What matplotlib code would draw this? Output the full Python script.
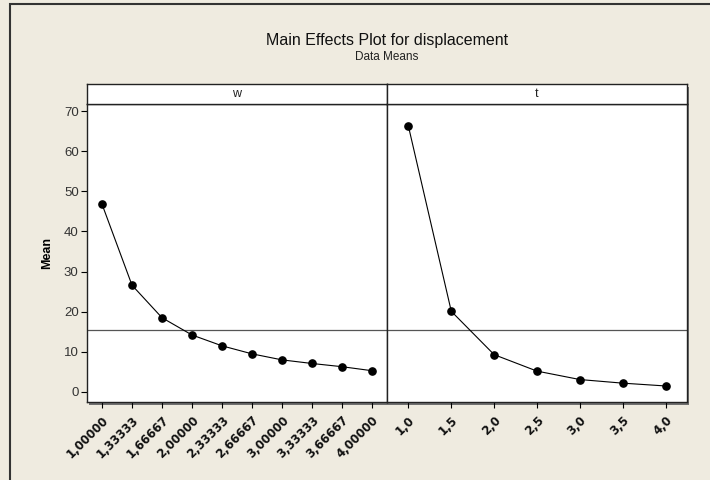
import matplotlib.pyplot as plt
from matplotlib.patches import Rectangle

# factor levels and the mean response at each level
w_levels = ['1,00000', '1,33333', '1,66667', '2,00000', '2,33333',
            '2,66667', '3,00000', '3,33333', '3,66667', '4,00000']
w_means = [46.8, 26.6, 18.5, 14.2, 11.5, 9.5, 8.0, 7.1, 6.3, 5.3]

t_levels = ['1,0', '1,5', '2,0', '2,5', '3,0', '3,5', '4,0']
t_means = [66.2, 20.1, 9.3, 5.2, 3.1, 2.2, 1.5]

grand_mean = 15.45
y_ticks = [0, 10, 20, 30, 40, 50, 60, 70]

bg = '#efebe0'
plt.rcParams['font.family'] = ['Liberation Sans', 'DejaVu Sans']

fig = plt.figure(figsize=(7.1, 4.8), dpi=100, facecolor=bg)
W, H = 710.0, 480.0

# outer frame (runs off the right and bottom edges)
fig.patches.append(Rectangle((10 / W, -0.1), 1.2, 1 - 4 / H + 0.1,
                             transform=fig.transFigure, fill=False,
                             edgecolor='#333333', lw=1.5, zorder=-2))

# drop shadow behind the panels
fig.patches.append(Rectangle((89 / W, 1 - 404.5 / H), 600 / W, 318 / H,
                             transform=fig.transFigure, facecolor='#707070',
                             edgecolor='none', zorder=-1))

plot_bottom = 1 - 402.3 / H
plot_height = (402.3 - 104.3) / H
strip_bottom = 1 - 104.3 / H
strip_height = 20 / H

panels = [('w', w_levels, w_means, 87), ('t', t_levels, t_means, 387)]
for i, (name, levels, means, x0) in enumerate(panels):
    ax = fig.add_axes([x0 / W, plot_bottom, 300 / W, plot_height])
    ax.set_facecolor('white')
    xs = list(range(1, len(levels) + 1))
    ax.axhline(grand_mean, color='#555555', lw=0.9, zorder=1)
    ax.plot(xs, means, color='black', lw=0.8, marker='o', markersize=5.2,
            markerfacecolor='black', zorder=3)
    ax.set_xlim(0.5, len(levels) + 0.5)
    ax.set_ylim(-2.57, 71.67)
    ax.set_xticks(xs)
    ax.set_xticklabels(levels, rotation=45, ha='right', rotation_mode='anchor',
                       fontsize=8.5, fontweight='bold', color='#111111',
                       family='DejaVu Sans')
    ax.tick_params(axis='x', length=4, width=0.8, pad=4)
    if i == 0:
        ax.set_yticks(y_ticks)
        ax.tick_params(axis='y', length=4, width=0.8, labelsize=9.5,
                       labelcolor='#333333', pad=2)
        ax.set_ylabel('Mean', fontsize=9, fontweight='bold', labelpad=8)
    else:
        ax.set_yticks([])
    for sp in ax.spines.values():
        sp.set_linewidth(1.0)
        sp.set_color('#222222')

    # strip with the factor name
    sax = fig.add_axes([x0 / W, strip_bottom, 300 / W, strip_height])
    sax.set_facecolor('white')
    sax.set_xticks([])
    sax.set_yticks([])
    for sp in sax.spines.values():
        sp.set_linewidth(1.0)
        sp.set_color('#222222')
    sax.text(0.5, 0.5, name, ha='center', va='center', fontsize=9,
             color='#222222', transform=sax.transAxes)

fig.text(387 / W, 1 - 40 / H, 'Main Effects Plot for displacement',
         ha='center', va='center', fontsize=11.5, color='#111111')
fig.text(387 / W, 1 - 57 / H, 'Data Means', ha='center', va='center',
         fontsize=8.5, color='#222222')

fig.savefig('out.png', dpi=100, facecolor=bg)
